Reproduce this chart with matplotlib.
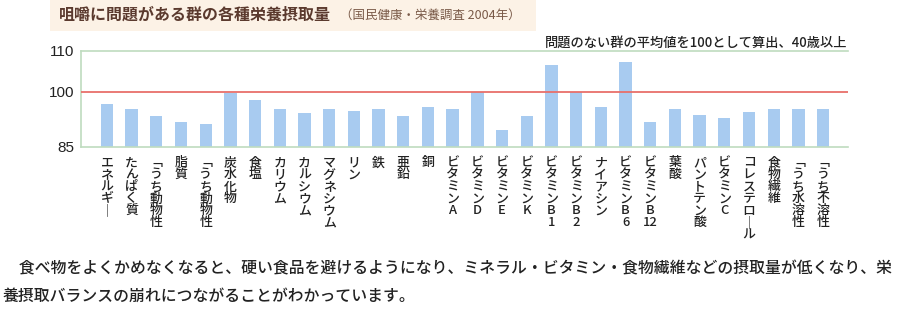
import numpy as np
import matplotlib.pyplot as plt
from matplotlib.patches import Rectangle

plt.rcParams['font.family'] = ['Noto Sans CJK JP', 'DejaVu Sans']

# Data (problem-free group average = 100)
categories = ['エネルギー', 'たんぱく質', '「うち動物性', '脂質', '「うち動物性', '炭水化物', '食塩',
              'カリウム', 'カルシウム', 'マグネシウム', 'リン', '鉄', '亜鉛', '銅',
              'ビタミンA', 'ビタミンD', 'ビタミンE', 'ビタミンK', 'ビタミンB1', 'ビタミンB2',
              'ナイアシン', 'ビタミンB6', 'ビタミンB12', '葉酸', 'パントテン酸', 'ビタミンC',
              'コレステロール', '食物繊維', '「うち水溶性', '「うち不溶性']
values = [96.8, 95.3, 93.3, 91.7, 91.2, 99.8, 97.8, 95.3, 94.2, 95.3,
          94.7, 95.3, 93.3, 95.9, 95.3, 99.9, 89.6, 93.3, 106.5, 100.0,
          96.0, 107.3, 91.7, 95.2, 93.8, 93.0, 94.4, 95.2, 95.2, 95.2]
yticks = [85, 100, 110]
baseline = 100

title = '咀嚼に問題がある群の各種栄養摂取量'
source = '（国民健康・栄養調査 2004年）'
note = '問題のない群の平均値を100として算出、40歳以上'
para1 = '\u3000食べ物をよくかめなくなると、硬い食品を避けるようになり、ミネラル・ビタミン・食物繊維などの摂取量が低くなり、栄'
para2 = '養摂取バランスの崩れにつながることがわかっています。'


def vertical(s):
    # stack characters top-to-bottom like tategaki, keeping digit runs together
    s = s.replace('ー', '｜').replace('「', '﹁')
    out = []
    for ch in s:
        if ch.isdigit() and out and out[-1].isdigit():
            out[-1] += ch
        else:
            out.append(ch)
    return '\n'.join(out)


# the original axis is not quite linear: wider spacing above 100
def fwd(v):
    v = np.asarray(v, dtype=float)
    return np.where(v <= 100, (v - 85) * 54.7 / 15, 54.7 + (v - 100) * 4.13)


def inv(p):
    p = np.asarray(p, dtype=float)
    return np.where(p <= 54.7, 85 + p * 15 / 54.7, 100 + (p - 54.7) / 4.13)


fig = plt.figure(figsize=(9, 3.27), dpi=100)

# beige band behind the title
fig.patches.append(Rectangle((0.055, 0.905), 0.54, 0.095, transform=fig.transFigure,
                             facecolor='#fcf2e6', edgecolor='none', zorder=0))
fig.text(0.066, 0.955, title, fontsize=11.5, fontweight='bold', color='#5b3a2e', va='center')
fig.text(0.378, 0.953, source, fontsize=9, color='#7a5a48', va='center')

ax = fig.add_axes([0.09, 0.5514, 0.852, 0.2936])
ax.set_yscale('function', functions=(fwd, inv))
x = np.arange(len(categories))
ax.bar(x, np.array(values) - 85, width=0.5, bottom=85, color='#a8cbf0', zorder=2)
ax.axhline(baseline, color='#e8706a', lw=1.3, zorder=3)

ax.set_ylim(85, 110)
ax.set_xlim(-1.05, len(categories))
ax.set_yticks(yticks)
ax.set_yticklabels([str(t) for t in yticks], family='Liberation Sans', fontsize=11, color='#222222')
ax.yaxis.set_minor_locator(plt.NullLocator())
ax.set_xticks(x)
ax.set_xticklabels([vertical(c) for c in categories], fontsize=9.3, fontweight='medium', va='top',
                   linespacing=0.9, color='#222222')
ax.tick_params(axis='both', length=0)
ax.tick_params(axis='x', pad=7)
ax.tick_params(axis='y', pad=5)

ax.spines['right'].set_visible(False)
for side in ['top', 'bottom', 'left']:
    ax.spines[side].set_color('#bfdcbf')
    ax.spines[side].set_linewidth(1.2)

fig.text(0.942, 0.868, note, fontsize=9.5, fontweight='medium', color='#222222', ha='right', va='center')

fig.text(0.003, 0.178, para1, fontsize=11.4, fontweight='medium', color='#222222', va='center')
fig.text(0.003, 0.093, para2, fontsize=11.4, fontweight='medium', color='#222222', va='center')

fig.savefig('out.png', dpi=100)
